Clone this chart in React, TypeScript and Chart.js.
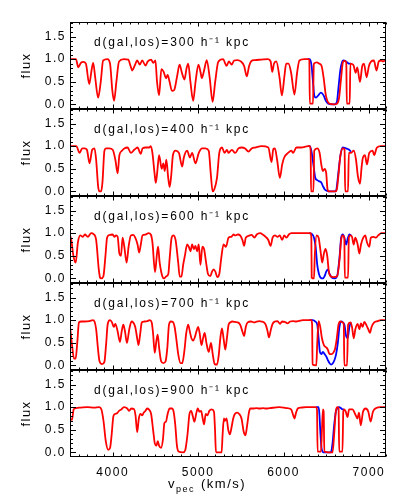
import React, { useEffect, useRef } from 'react';
import { Chart, registerables } from 'chart.js';

Chart.register(...registerables);

// ---- data ----
const panelDistances = ['300', '400', '600', '700', '900'];
const xTickValues = [4000, 5000, 6000, 7000];
const yTickValues = [0, 0.5, 1.0, 1.5];

type P = [number, number];

const red300: P[] = [
  [3500, 1.0], [3570, 1.0], [3597, 0.82], [3628, 0.92], [3655, 0.94], [3686, 0.9], [3725, 0.45], [3752, 0.75],
  [3771, 0.92], [3795, 0.6], [3829, 0.15], [3860, 0.5], [3888, 0.97], [3938, 1.0], [3969, 0.9], [3996, 0.3],
  [4016, 0.08], [4043, 0.5], [4074, 0.95], [4132, 1.0], [4182, 0.99], [4209, 0.85], [4229, 0.75], [4256, 0.85],
  [4287, 0.97], [4318, 0.88], [4345, 0.97], [4384, 0.86], [4411, 0.95], [4450, 0.99], [4473, 0.92], [4500, 0.97],
  [4519, 0.5], [4543, 0.2], [4570, 0.78], [4597, 0.72], [4624, 0.58], [4643, 0.65], [4666, 0.5], [4694, 0.3],
  [4720, 0.32], [4752, 0.6], [4783, 0.88], [4810, 0.7], [4840, 0.55], [4865, 0.8], [4884, 0.9], [4910, 0.5],
  [4942, 0.08], [4970, 0.5], [5004, 0.88], [5030, 0.7], [5043, 0.58], [5070, 0.75], [5101, 0.98], [5135, 0.6],
  [5170, 0.06], [5200, 0.5], [5236, 0.94], [5294, 1.0], [5314, 0.92], [5333, 0.85], [5360, 0.95], [5392, 0.88],
  [5422, 0.97], [5461, 0.98], [5500, 0.95], [5539, 0.85], [5570, 0.62], [5597, 0.85], [5624, 0.96], [5663, 0.98],
  [5740, 0.99], [5818, 1.0], [5849, 0.95], [5868, 0.72], [5888, 0.9], [5915, 0.95], [5953, 0.6], [5981, 0.2],
  [6012, 0.65], [6031, 0.9], [6058, 0.9], [6089, 0.7], [6128, 0.22], [6159, 0.7], [6186, 0.97], [6244, 1.0],
  [6291, 1.0], [6302, 0.98], [6308, 0.02], [6345, 0.02], [6355, 0.9], [6391, 0.93], [6419, 0.9], [6446, 0.85],
  [6469, 0.6], [6496, 0.2], [6535, 0.02], [6593, 0.0], [6628, 0.02], [6651, 0.15], [6675, 0.6], [6695, 0.93],
  [6712, 0.96], [6735, 0.93], [6741, 0.02], [6775, 0.02], [6783, 0.9], [6818, 0.87], [6845, 0.7], [6864, 0.82],
  [6895, 0.5], [6922, 0.85], [6942, 0.9], [6973, 0.6], [7000, 0.85], [7027, 0.95], [7058, 0.97], [7089, 0.75],
  [7116, 0.95], [7143, 0.97], [7166, 0.95], [7200, 1.0],
];
const blue300: P[] = [
  [6280, 1.0], [6300, 1.0], [6314, 0.98], [6329, 0.85], [6345, 0.5], [6360, 0.2], [6380, 0.15], [6407, 0.2],
  [6438, 0.26], [6469, 0.2], [6496, 0.08], [6523, 0.02], [6593, 0.0], [6624, 0.05], [6645, 0.4], [6665, 0.75],
  [6685, 0.93], [6702, 0.97], [6725, 0.96], [6750, 0.92], [6770, 0.9], [6787, 0.9],
];

const red400: P[] = [
  [3500, 1.0], [3574, 1.0], [3612, 0.85], [3643, 0.95], [3671, 0.95], [3698, 0.92], [3729, 0.62], [3760, 0.92],
  [3787, 0.95], [3806, 0.7], [3830, 0.1], [3845, 0.0], [3864, 0.0], [3880, 0.2], [3903, 0.9], [3922, 0.95],
  [3961, 0.95], [4000, 0.92], [4031, 0.7], [4058, 0.4], [4078, 0.8], [4109, 0.9], [4136, 0.95], [4174, 0.97],
  [4213, 0.85], [4252, 0.92], [4291, 0.97], [4329, 0.83], [4349, 0.95], [4388, 0.97], [4426, 0.97], [4446, 1.0],
  [4465, 0.85], [4490, 0.4], [4504, 0.19], [4520, 0.4], [4543, 0.8], [4574, 0.5], [4593, 0.62], [4609, 0.45],
  [4628, 0.7], [4650, 0.3], [4667, 0.1], [4685, 0.35], [4705, 0.8], [4736, 0.9], [4775, 0.85], [4814, 0.55],
  [4833, 0.75], [4872, 0.9], [4903, 0.75], [4930, 0.85], [4969, 0.62], [5008, 0.85], [5047, 0.95], [5085, 0.95],
  [5124, 0.9], [5150, 0.35], [5170, 0.0], [5190, 0.05], [5221, 0.3], [5248, 0.85], [5279, 0.97], [5310, 0.85],
  [5337, 0.92], [5357, 0.85], [5395, 0.92], [5434, 0.85], [5473, 0.95], [5512, 0.97], [5550, 0.95], [5589, 0.88],
  [5628, 0.95], [5667, 0.97], [5744, 1.0], [5822, 0.97], [5860, 0.65], [5880, 0.93], [5899, 0.95], [5925, 0.7],
  [5957, 0.3], [5985, 0.6], [6008, 0.75], [6054, 0.85], [6093, 0.9], [6112, 0.85], [6151, 0.97], [6209, 0.97],
  [6287, 1.0], [6306, 1.0], [6318, 0.9], [6322, 0.0], [6350, 0.0], [6360, 0.9], [6395, 0.95], [6423, 0.85],
  [6442, 0.6], [6461, 0.45], [6481, 0.5], [6500, 0.4], [6515, 0.05], [6530, 0.0], [6605, 0.0], [6625, 0.05],
  [6640, 0.3], [6667, 0.8], [6694, 0.95], [6715, 0.93], [6722, 0.0], [6755, 0.0], [6765, 0.85], [6791, 0.85],
  [6822, 0.9], [6849, 0.7], [6870, 0.35], [6895, 0.17], [6915, 0.55], [6930, 0.75], [6953, 0.8], [6977, 0.6],
  [7004, 0.85], [7043, 0.9], [7062, 0.8], [7093, 0.97], [7140, 1.0], [7200, 1.0],
];
const blue400: P[] = [
  [6290, 1.0], [6306, 1.0], [6326, 0.9], [6353, 0.55], [6372, 0.3], [6395, 0.25], [6423, 0.22], [6442, 0.2],
  [6461, 0.12], [6481, 0.05], [6500, 0.02], [6530, 0.0], [6605, 0.0], [6620, 0.05], [6636, 0.3], [6667, 0.8],
  [6694, 0.97], [6733, 0.95], [6760, 0.93], [6791, 0.88],
];

const red600: P[] = [
  [3500, 0.95], [3515, 0.85], [3540, 0.5], [3566, 0.35], [3593, 0.8], [3620, 0.95], [3651, 0.92], [3674, 0.97],
  [3709, 0.92], [3748, 1.0], [3775, 0.98], [3806, 0.85], [3837, 0.2], [3852, 0.02], [3864, 0.0], [3891, 0.05],
  [3915, 0.5], [3934, 0.9], [3961, 0.96], [4000, 0.97], [4019, 0.92], [4039, 0.95], [4058, 0.92], [4078, 0.55],
  [4097, 0.5], [4116, 0.9], [4136, 0.7], [4163, 0.35], [4186, 0.7], [4213, 0.95], [4240, 0.96], [4264, 0.9],
  [4291, 0.75], [4310, 0.57], [4329, 0.75], [4349, 0.95], [4388, 0.97], [4419, 1.0], [4446, 0.97], [4465, 0.8],
  [4496, 0.14], [4516, 0.5], [4531, 0.7], [4550, 0.35], [4581, 0.05], [4601, 0.0], [4628, 0.05], [4651, 0.1],
  [4667, 0.45], [4690, 0.9], [4709, 0.95], [4736, 0.85], [4767, 0.35], [4785, 0.04], [4805, 0.04], [4825, 0.3],
  [4845, 0.5], [4872, 0.75], [4891, 0.7], [4911, 0.6], [4930, 0.75], [4950, 0.65], [4969, 0.72], [4988, 0.6],
  [5008, 0.75], [5027, 0.3], [5050, 0.7], [5070, 0.65], [5090, 0.4], [5116, 0.1], [5143, 0.05], [5163, 0.15],
  [5182, 0.2], [5202, 0.15], [5225, 0.03], [5248, 0.1], [5271, 0.45], [5298, 0.75], [5326, 0.7], [5357, 0.9],
  [5388, 0.92], [5415, 0.97], [5434, 0.95], [5465, 0.97], [5492, 0.95], [5519, 0.85], [5539, 0.72], [5558, 0.9],
  [5589, 0.94], [5628, 0.96], [5659, 0.9], [5686, 0.97], [5725, 1.0], [5764, 0.96], [5791, 0.92], [5822, 0.85],
  [5849, 0.72], [5872, 0.9], [5899, 0.95], [5930, 0.92], [5957, 0.95], [5984, 0.85], [6008, 0.95], [6035, 0.9],
  [6062, 0.97], [6093, 1.0], [6209, 1.0], [6318, 1.0], [6326, 0.9], [6330, 0.02], [6357, 0.0], [6366, 0.5],
  [6388, 0.95], [6411, 0.9], [6434, 0.6], [6453, 0.35], [6473, 0.55], [6492, 0.65], [6512, 0.5], [6531, 0.15],
  [6550, 0.05], [6589, 0.03], [6628, 0.05], [6655, 0.4], [6675, 0.85], [6694, 0.95], [6712, 0.9], [6718, 0.02],
  [6756, 0.02], [6765, 0.9], [6783, 0.95], [6802, 0.92], [6822, 0.75], [6841, 0.9], [6868, 0.75], [6888, 0.55],
  [6907, 0.75], [6934, 0.9], [6957, 0.95], [6977, 0.8], [7004, 0.7], [7023, 0.9], [7054, 0.92], [7081, 0.9],
  [7108, 0.95], [7147, 1.0], [7200, 1.0],
];
const blue600: P[] = [
  [6300, 1.0], [6333, 0.98], [6357, 0.9], [6376, 0.7], [6395, 0.3], [6415, 0.1], [6434, 0.02], [6461, 0.0],
  [6481, 0.05], [6500, 0.15], [6519, 0.2], [6539, 0.1], [6566, 0.02], [6597, 0.0], [6628, 0.05], [6655, 0.45],
  [6675, 0.9], [6694, 0.97], [6713, 0.9], [6733, 0.75], [6752, 0.88], [6771, 0.97], [6791, 0.95],
];

const red700: P[] = [
  [3500, 0.85], [3527, 0.4], [3547, 0.15], [3566, 0.15], [3585, 0.5], [3605, 0.95], [3632, 0.97], [3671, 0.97],
  [3729, 0.98], [3768, 1.0], [3787, 0.97], [3806, 0.8], [3826, 0.4], [3845, 0.1], [3876, 0.03], [3903, 0.08],
  [3922, 0.45], [3942, 0.92], [3969, 1.0], [3992, 0.95], [4012, 0.85], [4031, 0.92], [4058, 0.75], [4085, 0.52],
  [4105, 0.75], [4124, 0.9], [4144, 0.75], [4167, 0.5], [4194, 0.8], [4221, 0.97], [4240, 0.95], [4264, 0.85],
  [4291, 0.55], [4302, 0.45], [4322, 0.7], [4341, 0.95], [4368, 0.97], [4407, 0.98], [4434, 1.0], [4457, 0.95],
  [4473, 0.7], [4492, 0.28], [4512, 0.55], [4527, 0.68], [4543, 0.4], [4566, 0.1], [4593, 0.05], [4620, 0.1],
  [4640, 0.4], [4659, 0.9], [4682, 0.97], [4705, 0.96], [4725, 0.85], [4744, 0.6], [4767, 0.25], [4795, 0.05],
  [4814, 0.05], [4841, 0.35], [4860, 0.7], [4884, 0.9], [4903, 0.75], [4922, 0.6], [4942, 0.55], [4961, 0.62],
  [4980, 0.75], [5000, 0.85], [5019, 0.7], [5039, 0.45], [5058, 0.6], [5077, 0.72], [5097, 0.5], [5124, 0.3],
  [5151, 0.5], [5171, 0.25], [5194, 0.03], [5221, 0.02], [5240, 0.2], [5260, 0.6], [5279, 0.82], [5298, 0.6],
  [5318, 0.35], [5337, 0.6], [5357, 0.9], [5376, 0.95], [5403, 0.97], [5434, 0.96], [5465, 0.95], [5492, 0.9],
  [5519, 0.75], [5539, 0.65], [5558, 0.85], [5581, 0.95], [5620, 0.97], [5659, 0.95], [5686, 0.97], [5717, 0.98],
  [5744, 0.97], [5771, 0.95], [5791, 0.9], [5814, 0.75], [5829, 0.62], [5853, 0.8], [5872, 0.92], [5899, 0.97],
  [5930, 0.98], [5957, 0.92], [5984, 0.97], [6015, 0.96], [6047, 0.93], [6078, 0.97], [6112, 0.98], [6151, 0.97],
  [6178, 0.98], [6229, 1.0], [6326, 1.0], [6335, 0.9], [6340, 0.02], [6384, 0.0], [6395, 0.5], [6411, 0.98],
  [6430, 0.85], [6450, 0.6], [6473, 0.45], [6500, 0.4], [6519, 0.35], [6539, 0.25], [6566, 0.25], [6589, 0.3],
  [6605, 0.38], [6624, 0.6], [6644, 0.9], [6667, 0.97], [6694, 0.95], [6706, 0.9], [6712, 0.0], [6744, 0.0],
  [6756, 0.9], [6783, 0.95], [6802, 0.85], [6822, 0.6], [6841, 0.8], [6868, 0.92], [6888, 0.8], [6907, 0.93],
  [6926, 0.85], [6946, 0.96], [6973, 0.88], [6992, 0.8], [7012, 0.72], [7031, 0.85], [7062, 0.95], [7101, 0.98],
  [7140, 1.0], [7200, 1.0],
];
const blue700: P[] = [
  [6300, 1.0], [6345, 1.0], [6372, 0.97], [6395, 0.9], [6411, 0.6], [6426, 0.3], [6442, 0.25], [6461, 0.3],
  [6481, 0.25], [6500, 0.2], [6519, 0.12], [6539, 0.05], [6558, 0.02], [6578, 0.05], [6597, 0.12], [6616, 0.25],
  [6636, 0.5], [6655, 0.85], [6675, 0.97], [6694, 0.95], [6713, 0.9], [6733, 0.65], [6752, 0.6], [6771, 0.85],
  [6791, 0.95],
];

const red900: P[] = [
  [3500, 0.74], [3523, 0.72], [3543, 0.95], [3570, 0.98], [3628, 0.99], [3705, 1.0], [3783, 0.99], [3841, 1.0],
  [3868, 0.95], [3892, 0.7], [3919, 0.25], [3946, 0.06], [3969, 0.1], [3988, 0.4], [4008, 0.8], [4027, 0.85],
  [4054, 0.87], [4074, 0.92], [4101, 0.95], [4132, 1.0], [4171, 0.97], [4190, 0.92], [4217, 0.97], [4248, 0.96],
  [4267, 0.82], [4287, 0.45], [4306, 0.75], [4326, 0.85], [4345, 0.82], [4364, 0.88], [4384, 0.92], [4403, 0.97],
  [4423, 0.95], [4450, 0.85], [4473, 0.5], [4493, 0.2], [4512, 0.15], [4527, 0.25], [4543, 0.15], [4566, 0.1],
  [4589, 0.3], [4605, 0.65], [4624, 0.68], [4643, 0.85], [4667, 0.97], [4694, 0.97], [4713, 0.9], [4733, 0.6],
  [4752, 0.15], [4771, 0.02], [4822, 0.0], [4849, 0.05], [4876, 0.4], [4899, 0.85], [4919, 0.92], [4938, 0.8],
  [4957, 0.68], [4977, 0.85], [4996, 0.97], [5016, 0.9], [5035, 0.92], [5054, 0.75], [5070, 0.62], [5089, 0.85],
  [5108, 0.82], [5132, 0.92], [5159, 0.95], [5186, 0.9], [5198, 0.5], [5209, 0.0], [5275, 0.0], [5287, 0.4],
  [5302, 0.75], [5314, 0.7], [5333, 0.75], [5353, 0.5], [5372, 0.4], [5391, 0.55], [5411, 0.75], [5430, 0.85],
  [5457, 0.88], [5481, 0.85], [5508, 0.75], [5535, 0.45], [5554, 0.38], [5574, 0.6], [5597, 0.9], [5612, 0.97],
  [5643, 0.97], [5682, 0.98], [5721, 0.97], [5760, 0.98], [5798, 0.97], [5837, 0.98], [5895, 0.99], [5954, 1.0],
  [6031, 0.98], [6089, 0.95], [6109, 0.85], [6128, 0.75], [6147, 0.88], [6167, 0.97], [6205, 0.99], [6264, 1.0],
  [6380, 1.0], [6392, 0.95], [6399, 0.02], [6439, 0.02], [6450, 0.5], [6462, 0.95], [6470, 0.9], [6478, 0.02],
  [6574, 0.0], [6593, 0.4], [6613, 0.92], [6632, 1.0], [6645, 0.97], [6652, 0.02], [6690, 0.02], [6700, 0.9],
  [6710, 0.95], [6729, 0.9], [6749, 0.78], [6768, 0.95], [6806, 0.95], [6846, 0.82], [6865, 0.75], [6884, 0.88],
  [6904, 0.6], [6931, 0.9], [6962, 0.97], [6993, 0.9], [7020, 0.68], [7047, 0.9], [7086, 0.98], [7136, 1.0],
  [7200, 1.0],
];
const blue900: P[] = [
  [6380, 1.0], [6411, 1.0], [6420, 0.85], [6430, 0.5], [6445, 0.1], [6470, 0.0], [6554, 0.0], [6574, 0.2],
  [6593, 0.6], [6613, 0.9], [6632, 0.98], [6652, 1.0], [6671, 0.98], [6690, 0.95], [6710, 0.95],
];

const redSeries = [red300, red400, red600, red700, red900];
const blueSeries = [blue300, blue400, blue600, blue700, blue900];

// ---- chart ----
const FONT = '"Liberation Sans", Arial, sans-serif';
const panelIds = ['p0', 'p1', 'p2', 'p3', 'p4']; // p0 = top panel

const toPoints = (s: P[]) => s.map(([x, y]) => ({ x, y }));

const panelPlugin = {
  id: 'panelFrames',
  beforeDraw(chart: any) {
    (chart.ctx as any).letterSpacing = '1.5px';
  },
  afterDraw(chart: any) {
    const { ctx, chartArea } = chart;
    const xs = chart.scales.x;
    const left = chartArea.left;
    const right = chartArea.right;
    ctx.save();
    ctx.strokeStyle = '#000';
    ctx.lineWidth = 1;
    const line = (x1: number, y1: number, x2: number, y2: number) => {
      ctx.beginPath();
      ctx.moveTo(x1, y1);
      ctx.lineTo(x2, y2);
      ctx.stroke();
    };
    panelIds.forEach((id, i) => {
      const ys = chart.scales[id];
      const top = Math.round(ys.top) + 0.5;
      const bottom = Math.round(ys.bottom) - 0.5;
      ctx.strokeRect(Math.round(left) + 0.5, top, Math.round(right - left) - 1, bottom - top);
      for (let k = 0; k <= 18; k++) {
        const v = k / 10;
        if (v < ys.min || v > ys.max) continue;
        const y = Math.round(ys.getPixelForValue(v)) + 0.5;
        const len = k % 5 === 0 ? 6 : 3;
        line(left, y, left + len, y);
        line(right, y, right - len, y);
      }
      for (let v = 3600; v <= 7200; v += 100) {
        const x = Math.round(xs.getPixelForValue(v)) + 0.5;
        const len = v % 1000 === 0 ? 4 : 2;
        line(x, bottom, x, bottom - len);
        line(x, top, x, top + len);
      }
      ctx.fillStyle = '#000';
      ctx.textAlign = 'left';
      ctx.textBaseline = 'alphabetic';
      ctx.font = `12px ${FONT}`;
      (ctx as any).letterSpacing = '1.8px';
      ctx.fillText(`d(gal,los)=${panelDistances[i]} h⁻¹ kpc`, left + 24, ys.top + 24);
    });
    // x axis title with subscript
    (ctx as any).letterSpacing = '1.5px';
    ctx.fillStyle = '#000';
    ctx.textAlign = 'left';
    ctx.textBaseline = 'alphabetic';
    const base = chartArea.bottom + 31;
    const x0 = left + 98;
    ctx.font = `13px ${FONT}`;
    ctx.fillText('v', x0, base);
    const wv = ctx.measureText('v').width;
    ctx.font = `9px ${FONT}`;
    ctx.fillText('pec', x0 + wv, base + 3.5);
    const wp = ctx.measureText('pec').width;
    ctx.font = `13px ${FONT}`;
    ctx.fillText('(km/s)', x0 + wv + wp + 6, base);
    ctx.restore();
  },
};

export default function App() {
  const ref = useRef<HTMLCanvasElement | null>(null);
  useEffect(() => {
    if (!ref.current) return;
    const datasets: any[] = [];
    redSeries.forEach((s, i) => {
      datasets.push({
        data: toPoints(s),
        yAxisID: panelIds[i],
        borderColor: '#ff0000',
        borderWidth: 1.8,
        pointRadius: 0,
        cubicInterpolationMode: 'monotone',
        fill: false,
      });
    });
    blueSeries.forEach((s, i) => {
      datasets.push({
        data: toPoints(s),
        yAxisID: panelIds[i],
        borderColor: '#0000ff',
        borderWidth: 1.8,
        pointRadius: 0,
        cubicInterpolationMode: 'monotone',
        fill: false,
      });
    });

    const yScale = (id: string) => ({
      type: 'linear',
      axis: 'y',
      position: 'left',
      stack: 'panels',
      stackWeight: 1,
      min: -0.1,
      max: 1.82,
      afterBuildTicks: (scale: any) => {
        scale.ticks = yTickValues.map((value) => ({ value }));
      },
      afterFit: (scale: any) => {
        scale.width = 70;
      },
      grid: { display: false, drawTicks: false },
      border: { display: false },
      ticks: {
        color: '#000',
        padding: 4,
        font: { family: FONT, size: 12 },
        autoSkip: false,
        callback: (v: any) => Number(v).toFixed(1),
      },
      title: {
        display: true,
        text: 'flux',
        color: '#000',
        font: { family: FONT, size: 13 },
        padding: { top: 19, bottom: 0 },
      },
    });

    const scales: any = {
      x: {
        type: 'linear',
        position: 'bottom',
        min: 3500,
        max: 7200,
        afterBuildTicks: (scale: any) => {
          scale.ticks = xTickValues.map((value) => ({ value }));
        },
        afterFit: (scale: any) => {
          scale.height = 44;
        },
        grid: { display: false, drawTicks: false },
        border: { display: false },
        ticks: {
          color: '#000',
          padding: 8,
          maxRotation: 0,
          autoSkip: false,
          font: { family: FONT, size: 12 },
          callback: (v: any) => String(v),
        },
      },
    };
    // last-defined stacked left axis is placed on top
    for (let i = panelIds.length - 1; i >= 0; i--) {
      scales[panelIds[i]] = yScale(panelIds[i]);
    }

    const chart = new Chart(ref.current, {
      type: 'line',
      data: { datasets },
      options: {
        responsive: false,
        animation: false,
        devicePixelRatio: 1,
        parsing: false,
        normalized: true,
        layout: { padding: { left: 0, right: 21, top: 22, bottom: 0 } },
        plugins: { legend: { display: false }, tooltip: { enabled: false }, title: { display: false } },
        scales,
      } as any,
      plugins: [panelPlugin],
    });
    return () => chart.destroy();
  }, []);

  return (
    <div style={{ position: 'fixed', left: 0, top: 0, width: 407, height: 501, background: '#fff' }}>
      <canvas ref={ref} width={407} height={501} style={{ width: 407, height: 501, display: 'block' }} />
    </div>
  );
}
